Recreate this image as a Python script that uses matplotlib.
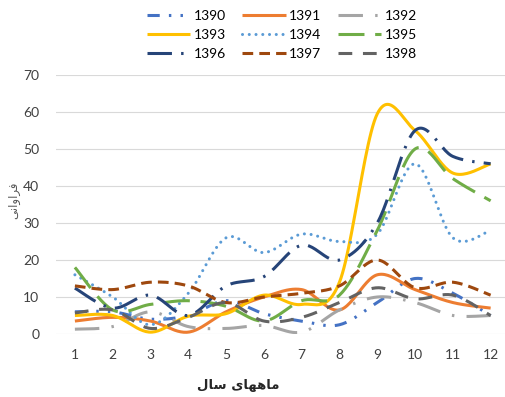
import numpy as np
import matplotlib
matplotlib.use("Agg")
import matplotlib.pyplot as plt

plt.rcParams['font.family'] = ['Lato', 'DejaVu Sans']

months = list(range(1, 13))

s1390 = [6, 6, 4, 5, 9, 5.5, 3.5, 2.5, 8.5, 15, 11, 5]
s1391 = [3.5, 4.5, 3.5, 0.5, 6, 10, 12, 6.5, 16, 12, 8.5, 7]
s1392 = [1.3, 2, 6, 2, 1.5, 2.3, 0.5, 6.5, 10, 8.5, 5, 5]
s1393 = [5, 5, 0.5, 4.8, 5.5, 10.5, 8, 14, 59.5, 55, 43.5, 46]
s1394 = [16, 10, 2.5, 11, 26, 22, 27, 25, 27, 46, 26, 28]
s1395 = [18, 6.5, 8, 9, 7.5, 3.5, 9, 10.5, 28, 50, 42, 36]
s1396 = [12.4, 7, 10.5, 5, 13, 15.5, 24, 20, 30, 55, 48, 46]
s1397 = [13, 12, 14, 13, 8.5, 10, 11, 13, 20, 12.5, 14, 10.5]
s1398 = [5.7, 6.5, 1.5, 4.5, 8.5, 3.5, 4.5, 8.5, 12.5, 9.5, 10.5, 5]

series_names = ["1390", "1391", "1392", "1393", "1394", "1395", "1396", "1397", "1398"]
series_vals = [s1390, s1391, s1392, s1393, s1394, s1395, s1396, s1397, s1398]

colors = ["#4472C4", "#ED7D31", "#A5A5A5", "#FFC000", "#5B9BD5",
          "#70AD47", "#264478", "#9E480E", "#636363"]
dashes = [(4, 3, 0.8, 3, 0.8, 3), None, (8, 4, 0.8, 4), None, (0.01, 2.2),
          (8.5, 3.5), (8, 3, 0.8, 3), (3.5, 2), (4.5, 3.5)]


def smooth(x, y, n=25):
    # excel-like smooth line (bezier through the points)
    pts = np.column_stack([x, y]).astype(float)
    P = np.vstack([pts[0], pts, pts[-1]])
    out = []
    for i in range(1, len(P) - 2):
        p0, p1, p2, p3 = P[i - 1], P[i], P[i + 1], P[i + 2]
        c1 = p1 + (p2 - p0) / 6
        c2 = p2 - (p3 - p1) / 6
        t = np.linspace(0, 1, n, endpoint=(i == len(P) - 3))[:, None]
        seg = (1 - t) ** 3 * p1 + 3 * (1 - t) ** 2 * t * c1 + 3 * (1 - t) * t ** 2 * c2 + t ** 3 * p2
        out.append(seg)
    return np.vstack(out)


fig = plt.figure(figsize=(5.05, 3.97), dpi=100)
ax = fig.add_axes([56 / 505, 63 / 397, 449 / 505, 259 / 397])

lines = []
for name, vals, col, d in zip(series_names, series_vals, colors, dashes):
    sm = smooth(months, vals)
    if d is None:
        ln, = ax.plot(sm[:, 0], sm[:, 1], color=col, lw=2.2, label=name,
                      solid_capstyle='butt')
    else:
        ln, = ax.plot(sm[:, 0], sm[:, 1], color=col, lw=2.2, label=name,
                      dashes=d, dash_capstyle='round' if name == "1394" else 'butt')
    lines.append(ln)

ax.set_xlim(0.5, 12.38)
ax.set_ylim(0, 70)
ax.set_xticks(months)
ax.set_yticks(range(0, 71, 10))
ax.yaxis.grid(True, color="#D9D9D9", lw=0.8)
ax.set_axisbelow(True)
for s in ax.spines.values():
    s.set_visible(False)
ax.tick_params(length=0, labelsize=10, colors="#404040")
ax.tick_params(axis='x', pad=11)
ax.tick_params(axis='y', pad=12)

# legend laid out row by row like the original
order = [0, 3, 6, 1, 4, 7, 2, 5, 8]
leg = fig.legend([lines[i] for i in order], [series_names[i] for i in order],
                 ncol=3, loc='upper left', bbox_to_anchor=(147 / 505, 1 - 10 / 397),
                 frameon=False, fontsize=10, handlelength=3.1, handletextpad=0.25,
                 columnspacing=1.2, labelspacing=0.5, borderpad=0, borderaxespad=0)

# arabic labels (pre-shaped, visual order)
xlabel = "\uFEDD\uFE8E\uFEB3 \uFBFC\uFE8E\uFEEC\uFEEB\uFE8E\uFEE3"
ylabel = "\uFBFD\uFEE7\uFE8D\uFEED\uFE8D\uFEAE\uFED3"
fig.text(238 / 505, 1 - 386 / 397, xlabel, family=['DejaVu Sans'], fontsize=9.5,
         fontweight='bold', ha='center', va='center', color="#262626")
fig.text(14 / 505, 1 - 200 / 397, ylabel, family=['DejaVu Sans'], fontsize=8.5,
         rotation=90, ha='center', va='center', color="#595959")

fig.savefig("out.png", dpi=100)
